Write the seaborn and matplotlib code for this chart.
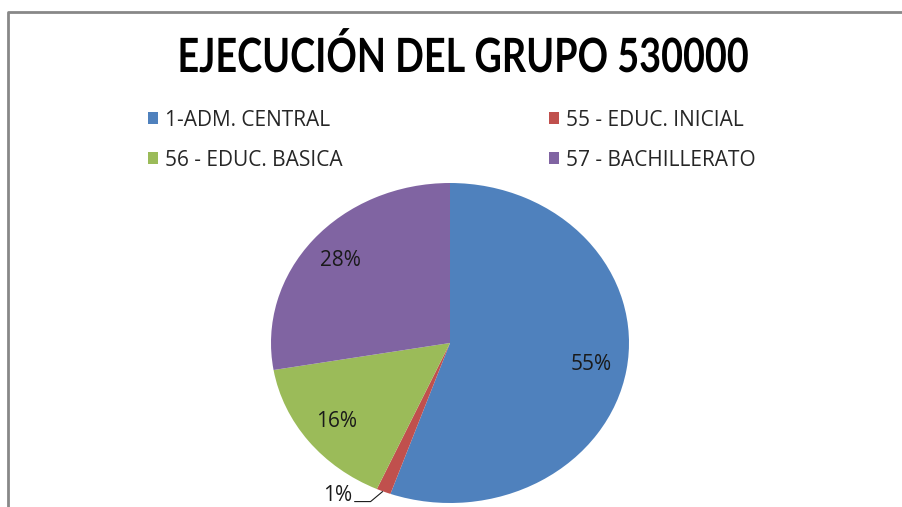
import matplotlib
matplotlib.use('Agg')
import matplotlib.pyplot as plt
from matplotlib.patheffects import AbstractPathEffect
from matplotlib.transforms import Affine2D
import seaborn as sns
import numpy as np

sns.set_theme(style='white')
plt.rcParams['font.family'] = ['Open Sans', 'DejaVu Sans']

# datos del gráfico
categorias = ['1-ADM. CENTRAL', '55 - EDUC. INICIAL', '56 - EDUC. BASICA', '57 - BACHILLERATO']
valores = [55.4, 1.3, 15.6, 27.7]
colores = ['#4F81BD', '#C0504D', '#9BBB59', '#8064A2']
titulo = 'EJECUCIÓN DEL GRUPO 530000'


class Estrechar(AbstractPathEffect):
    """Comprime el texto en horizontal alrededor de x0 (píxeles)."""

    def __init__(self, sx, x0):
        super().__init__()
        self.sx, self.x0 = sx, x0

    def draw_path(self, renderer, gc, tpath, affine, rgbFace=None):
        t = affine + Affine2D().translate(-self.x0, 0).scale(self.sx, 1).translate(self.x0, 0)
        renderer.draw_path(gc, tpath, t, rgbFace)


W, H = 902, 507
fig = plt.figure(figsize=(W / 100, H / 100), dpi=100)
fig.patch.set_facecolor('white')
ax = fig.add_axes([0, 0, 1, 1])

# el pastel de la captura está estirado en horizontal (elipse)
rx, ry = 179, 160
k = rx / ry  # unidades de datos por píxel en y
cx, cy, r = 450, (H - 343) * k, rx
wedges, texts, autotexts = ax.pie(
    valores, colors=colores, startangle=90, counterclock=False,
    center=(cx, cy), radius=r, autopct='%1.0f%%', pctdistance=0.8,
    wedgeprops=dict(linewidth=0), textprops=dict(fontsize=15, color='#1a1a1a'))
ax.set_xlim(0, W)
ax.set_ylim(0, H * k)
ax.set_aspect('auto')
ax.axis('off')

# etiqueta del 1% fuera del pastel con línea guía
w = wedges[1]
ang = np.deg2rad((w.theta1 + w.theta2) / 2)
ex, ey = cx + r * np.cos(ang), cy + r * np.sin(ang)
autotexts[1].set_position((ex - 31, ey - 4 * k))
autotexts[1].set_ha('right')
autotexts[1].set_va('center')
ax.plot([ex - 1, ex - 13, ex - 29], [ey, ey - 10 * k, ey - 10 * k], color='#1a1a1a', lw=0.8)

# marco del área del gráfico
ax.plot([8, 8, W + 5], [-5, (H - 12) * k, (H - 12) * k], color='#888888', lw=2,
        solid_capstyle='butt')

fig.text(463 / W, 1 - 72 / H, titulo, ha='center', va='baseline',
         fontsize=34, fontweight='bold', color='black', family=['Lato', 'DejaVu Sans'],
         path_effects=[Estrechar(0.8, 463)])

# leyenda: una entrada por posición (dos columnas)
pos_leyenda = [(148, 120), (549, 120), (148, 160), (549, 160)]
for i, (lx, ly) in enumerate(pos_leyenda):
    fig.legend([wedges[i]], [categorias[i]], loc='center left',
               bbox_to_anchor=(lx / W, 1 - ly / H), frameon=False, fontsize=15,
               handlelength=0.48, handleheight=0.48, handletextpad=0.32,
               borderpad=0, borderaxespad=0)

fig.savefig('out.png', dpi=100, facecolor='white')
